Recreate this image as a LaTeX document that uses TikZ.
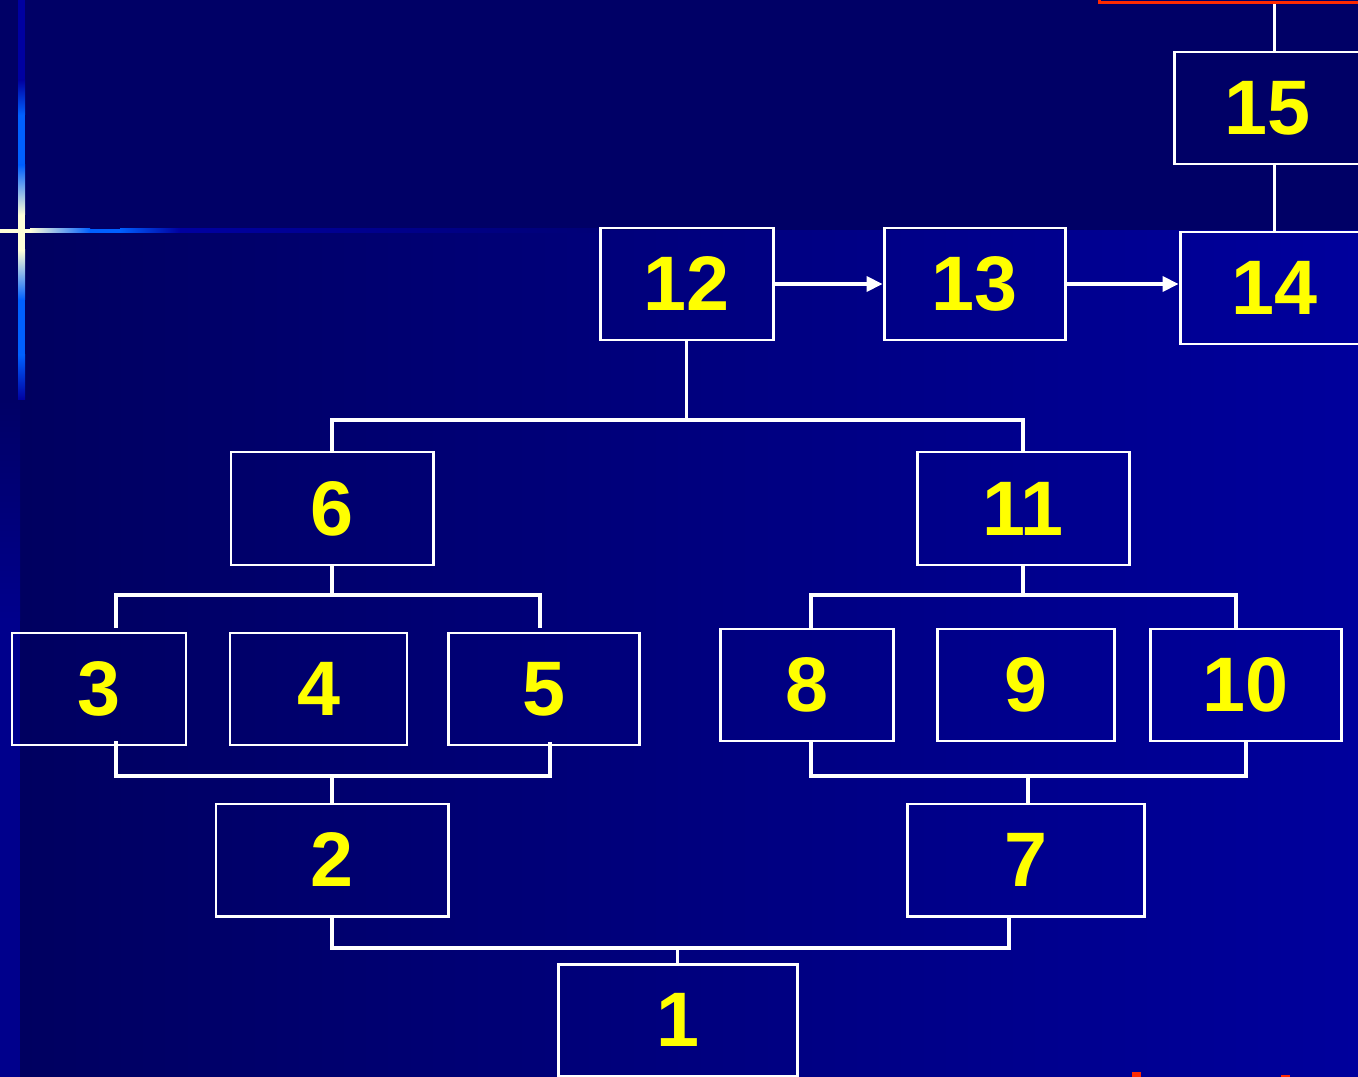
\documentclass[tikz,border=0pt]{standalone}
\usepackage{fontspec}
\setmainfont{Liberation Sans}
\usetikzlibrary{arrows.meta, calc}

\definecolor{bandtop}{HTML}{000066}
\definecolor{bandleft}{HTML}{000060}
\definecolor{bandright}{HTML}{00009C}
\definecolor{stripblue}{HTML}{00008C}
\definecolor{glowblue}{HTML}{0060FF}
\definecolor{glowdark}{HTML}{0000A0}
\definecolor{glowcream}{HTML}{FFFFD8}
\definecolor{numyellow}{HTML}{FFFF00}
\definecolor{frameRed}{HTML}{FF2A00}

\begin{document}
\begin{tikzpicture}[x=0.02cm, y=-0.02cm,
    blok/.style 2 args={draw=white, line width=1.7pt, minimum width=#1*0.02cm, minimum height=#2*0.02cm,
        inner sep=0pt, text=numyellow, font=\fontsize{44}{44}\selectfont\bfseries},
    wire/.style={draw=white, line width=2pt},
    flow/.style={wire, -{Triangle[length=9pt, width=8.5pt]}}]
    % Units: 1 = one pixel of the slide, y grows downwards
    \useasboundingbox (0,0) rectangle (1358,1077);
    \clip (0,0) rectangle (1358,1077);

    % Slide background: dark title band, shaded body, left strip
    \fill[bandtop] (0,0) rectangle (1358,231);
    \shade[left color=bandleft, right color=bandright] (20,231) rectangle (1358,1077);
    \fill[bandtop] (0,231) rectangle (20,400);
    \shade[top color=bandtop, bottom color=stripblue] (0,400) rectangle (20,620);
    \fill[stripblue] (0,620) rectangle (20,1077);

    % Glowing cross on the left
    \fill[glowdark] (18,0) rectangle (25,80);
    \shade[top color=glowdark, bottom color=glowblue] (18,80) rectangle (25,115);
    \fill[glowblue] (18,115) rectangle (25,165);
    \shade[top color=glowblue, bottom color=glowcream] (18,165) rectangle (25,215);
    \fill[glowcream] (18,215) rectangle (25,250);
    \shade[top color=glowcream, bottom color=glowblue] (18,250) rectangle (25,300);
    \fill[glowblue] (18,300) rectangle (25,355);
    \shade[top color=glowblue, bottom color=glowdark] (18,355) rectangle (25,400);
    \fill[glowcream] (0,229) rectangle (30,233);
    \shade[left color=glowcream, right color=glowblue] (30,229) rectangle (90,233);
    \fill[glowblue] (90,229) rectangle (120,233);
    \shade[left color=glowblue, right color=glowdark] (120,229) rectangle (180,233);
    \shade[left color=glowdark, right color=bandtop!70!bandright] (180,229) rectangle (600,233);

    % Boxes
    \node[draw=frameRed, line width=1.7pt, minimum width=320*0.02cm, minimum height=80*0.02cm] (nred) at (1259,-37) {};
    \node[blok={186}{112}] (n15) at (1267,108) {15};
    \node[blok={189}{112}] (n14) at (1274.5,288) {14};
    \node[blok={173}{112}] (n12) at (686.5,284) {12};
    \node[blok={181}{112}] (n13) at (974.5,284) {13};
    \node[blok={202}{113}] (n6) at (332,508.5) {6};
    \node[blok={212}{113}] (n11) at (1023,508.5) {11};
    \node[blok={174}{112}] (n3) at (99,689) {3};
    \node[blok={177}{112}] (n4) at (318.5,689) {4};
    \node[blok={191}{112}] (n5) at (543.5,689) {5};
    \node[blok={173}{112}] (n8) at (806.5,685) {8};
    \node[blok={177}{112}] (n9) at (1025.5,685) {9};
    \node[blok={191}{112}] (n10) at (1245.5,685) {10};
    \node[blok={232}{112}] (n2) at (332,860) {2};
    \node[blok={237}{112}] (n7) at (1025.5,860) {7};
    \node[blok={239}{112}] (n1) at (677.5,1020) {1};

    % Bus points and free line ends
    \coordinate (bus12) at (686.5,420);
    \coordinate (bus6) at (332,595);
    \coordinate (bus11) at (1023,595);
    \coordinate (bus2) at (332,776);
    \coordinate (bus7) at (1028,776);
    \coordinate (bus1) at (677.5,948);
    \coordinate (t3) at (116,628);
    \coordinate (t5) at (540,628);
    \coordinate (t8) at (811,629);
    \coordinate (t10) at (1236,629);
    \coordinate (b3) at (116,741);
    \coordinate (b5) at (550,742);
    \coordinate (b8) at (811,741);
    \coordinate (b10) at (1246,741);
    \coordinate (b7) at (1009,916);

    % Top chain
    \draw[wire] (nred.south -| n14.north) -- (n15.north -| n14.north);
    \draw[wire] (n15.south -| n14.north) -- (n14.north);
    \draw[flow] (n12.east) -- (n13.west);
    \draw[flow] (n13.east) -- (n13.east -| n14.west);

    % Splits
    \draw[wire] (n12.south) -- (bus12);
    \draw[wire] (n6.north) |- (bus12) -| (n11.north);
    \draw[wire] (n6.south) -- (bus6);
    \draw[wire] (t3) |- (bus6) -| (t5);
    \draw[wire] (n11.south) -- (bus11);
    \draw[wire] (t8) |- (bus11) -| (t10);

    % Joins
    \draw[wire] (b3) |- (bus2) -| (b5);
    \draw[wire] (bus2) -- (n2.north);
    \draw[wire] (b8) |- (bus7) -| (b10);
    \draw[wire] (bus7) -- (bus7 |- n7.north);
    \draw[wire] (n2.south) |- (bus1) -| (b7);
    \draw[wire] (bus1) -- (n1.north);

    % Red marks at the bottom edge
    \fill[frameRed] (1132,1072) rectangle (1141,1077);
    \fill[frameRed] (1281,1075) rectangle (1290,1077);
\end{tikzpicture}
\end{document}
